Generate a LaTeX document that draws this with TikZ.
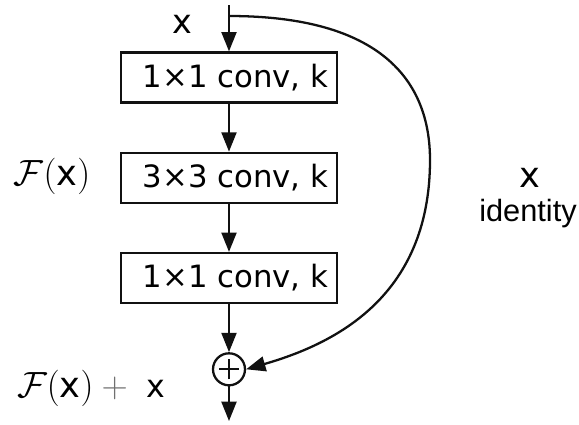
\documentclass[tikz,border=0pt]{standalone}
\usepackage{fontspec}
\setmainfont{DejaVu Sans}
\newfontfamily\idfont{Liberation Sans}
\usetikzlibrary{arrows.meta,positioning}
\definecolor{Ink}{HTML}{111111}
\definecolor{PlusGray}{HTML}{707070}
\tikzset{
  convbox/.style={
    draw=Ink, line width=1.3pt, fill=white,
    minimum width=43.2mm, minimum height=10mm, inner sep=0pt,
    font=\fontsize{17.5}{20}\selectfont,
    execute at begin node={\hspace*{2.6mm}}
  },
  sumnode/.style={
    circle, draw=Ink, line width=1.3pt, minimum size=6.4mm, inner sep=0pt,
    path picture={
      \draw[line width=1.3pt] ([xshift=-2mm]path picture bounding box.center)
        -- ([xshift=2mm]path picture bounding box.center);
      \draw[line width=1.3pt] ([yshift=-2mm]path picture bounding box.center)
        -- ([yshift=2mm]path picture bounding box.center);
    }
  },
  flow/.style={-{Triangle[length=11pt,width=8.5pt]}, line width=1.3pt, draw=Ink},
  mathlabel/.style={font=\fontsize{20}{24}\selectfont, inner sep=0pt}
}

\begin{document}
\begin{tikzpicture}[x=0.02cm,y=-0.02cm,node distance=9.6mm]
    \useasboundingbox (0,0) rectangle (579,424);
    % residual branch
    \coordinate (in) at (229,5);
    \coordinate (split) at (229,16);
    \node[convbox] (conv1) at (229,77.5) {1×1 conv, k};
    \node[convbox,below=of conv1] (conv2) {3×3 conv, k};
    \node[convbox,below=of conv2] (conv3) {1×1 conv, k};
    \node[sumnode,below=of conv3] (sum) {};
    \coordinate (out) at (229,421);
    \draw[flow] (in)--(conv1);
    \draw[flow] (conv1)--(conv2);
    \draw[flow] (conv2)--(conv3);
    \draw[flow] (conv3)--(sum);
    \draw[flow] (sum)--(out);
    % identity shortcut
    \draw[flow] (split) .. controls (380,16) and (430,80) .. (430,160)
      .. controls (430,300) and (330,345) .. (sum.east);
    % labels
    \node[font=\fontsize{19}{22}\selectfont] (xin) at (182,24) {x};
    \node[mathlabel] (fx) at (52,176) {$\mathcal{F}(\mbox{x})$};
    \node[mathlabel] (fxsum) at (91,388)
      {$\mathcal{F}(\mbox{x}) \mathbin{\textcolor{PlusGray}{+}} \;\mbox{\fontsize{18}{20}\selectfont x}$};
    \node[font=\fontsize{20}{23}\selectfont] (xid) at (530,178) {x};
    \node[font=\idfont\fontsize{17.5}{20}\selectfont] (identity) at (528,214) {identity};
  \end{tikzpicture}
\end{document}
